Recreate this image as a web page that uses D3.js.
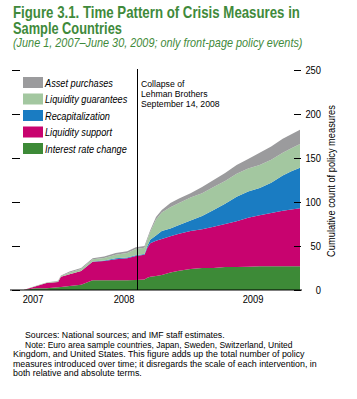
<!DOCTYPE html>
<html>
<head>
<meta charset="utf-8">
<script src="https://cdn.jsdelivr.net/npm/d3@7"></script>
<style>
  html, body { margin: 0; padding: 0; background: #fff; }
  svg { display: block; }
  .narrow { font-family: 'Liberation Sans Narrow', 'Arial Narrow', 'Liberation Sans', Arial, sans-serif; }
</style>
</head>
<body>
<svg id="chart" width="357" height="399"></svg>
<script>
// ---- Data ----
// period index along the horizontal axis (June 2007 -> June 2009, non-uniform time axis)
const period = [0,4,8,12,16,17,20,24,28,32,36,40,43,46,47,48,50,52,55,58,62,66,70,74,78,82,86,90,94,97,100];
const interestRateChange = [0,0,2,2,3,3.5,4.5,6,11,11,11,11,11.5,12,14,15,16,17,20,22,24,25,25,26,26,26.5,27,27,27,27,27];
const liquiditySupport   = [0,0,2,6,6,11.5,13.5,15.5,21,22,24,25,27,28,34,38,40,41,41,42,43,44,47,49,52,55.5,58,60.5,63,64.5,66];
const recapitalization   = [0,0,0,0,0,0,0,0,0.5,0.5,1,1,1,1,2,4,6,9,9,10,12,15,19,23,28,30,31,34.5,40,43.5,46];
const liquidityGuarantees= [0,0,0.5,0.5,1,1,2,2.5,2.5,3,4,5,7,7,7,9,18,21,24,25,26,26,26,26,26,26,26,26,26,26,27];
const assetPurchases     = [0,0,0,0,0.5,0.5,1,1,1,1.5,2,2,2,2,2,2,3,3,5,5,5,7,8,9,10,11,14,15,16,16,16];

const seriesNames = ["Interest rate change","Liquidity support","Recapitalization","Liquidity guarantees","Asset purchases"];
const seriesColors = ["#3d8a37","#c8036f","#1a7cc2","#a3c7a0","#9b9b9d"];
const yTicks = [0,50,100,150,200,250];
const yearLabels = ["2007","2008","2009"];
const yearLabelPos = [7.3,38.9,83.7];
const lehmanPos = 43.4;
const lehmanText = ["Collapse of","Lehman Brothers","September 14, 2008"];

// Condensed text: reference uses a condensed face; emulate by horizontal scaling
// place text at (tx,ty) and squeeze horizontally by factor f
function squeeze(sel, tx, ty, f) {
  sel.attr("x", 0).attr("y", 0)
     .attr("transform", (d,i) => {
       const X = typeof tx === "function" ? tx(d,i) : tx;
       const Y = typeof ty === "function" ? ty(d,i) : ty;
       const F = typeof f === "function" ? f(d,i) : f;
       return `translate(${X},${Y}) scale(${F},1)`;
     });
}
function naturalWidth(node) { return node.getComputedTextLength(); }

// ---- Layout ----
const svg = d3.select("#chart");
const plot = {left: 12, right: 300, top: 70, bottom: 290};

const x = d3.scaleLinear().domain([0,100]).range([plot.left, plot.right]);
const y = d3.scaleLinear().domain([0,250]).range([plot.bottom, plot.top]);

const rows = period.map((p,i) => ({
  p,
  "Interest rate change": interestRateChange[i],
  "Liquidity support": liquiditySupport[i],
  "Recapitalization": recapitalization[i],
  "Liquidity guarantees": liquidityGuarantees[i],
  "Asset purchases": assetPurchases[i]
}));
const stacked = d3.stack().keys(seriesNames)(rows);

const area = d3.area()
  .x(d => x(d.data.p))
  .y0(d => y(d[0]))
  .y1(d => y(d[1]))
  .curve(d3.curveLinear);

svg.append("g").selectAll("path").data(stacked).join("path")
  .attr("d", area)
  .attr("fill", (d,i) => seriesColors[i]);

// ---- Title ----
const green = "#3f8a3b";
function fitted(parent, text, tx, ty, width, attrs) {
  const t = parent.append("text").attr("class","narrow").text(text);
  Object.entries(attrs).forEach(([k,v]) => t.attr(k,v));
  const f = width / naturalWidth(t.node());
  squeeze(t, tx, ty, f);
  return t;
}
fitted(svg, "Figure 3.1. Time Pattern of Crisis Measures in", 13, 18, 287,
  {"font-size":16, "font-weight":"bold", "fill":green});
fitted(svg, "Sample Countries", 13, 34, 109,
  {"font-size":16, "font-weight":"bold", "fill":green});
fitted(svg, "(June 1, 2007\u2013June 30, 2009; only front-page policy events)", 13, 47, 290,
  {"font-size":12, "font-style":"italic", "fill":green});

// ---- Axes ----
const leftAxis = d3.axisLeft(y).tickValues(yTicks).tickSize(-8).tickFormat("");
const gL = svg.append("g").attr("transform",`translate(${plot.left},0)`).call(leftAxis);
gL.select(".domain").remove();
gL.selectAll("line").attr("stroke","#000");

const rightAxis = d3.axisRight(y).tickValues(yTicks).tickSize(-7).tickPadding(0).tickFormat(d3.format("d"));
const gR = svg.append("g").attr("transform",`translate(${plot.right+1},0)`).call(rightAxis);
gR.select(".domain").remove();
gR.selectAll("line").attr("stroke","#000");
gR.selectAll("text").attr("class","narrow").attr("font-size",11).attr("fill","#000")
  .attr("text-anchor","end").attr("dy","0.32em")
  .call(squeeze, 20, 0, 0.85);

fitted(svg, "Cumulative count of policy measures", 0, 0, 152,
  {"font-size":11, "fill":"#000", "text-anchor":"middle"})
  .attr("transform", function() {
    return `translate(335,181) rotate(-90) ` + d3.select(this).attr("transform");
  });

// x axis baseline
svg.append("line").attr("x1",10).attr("x2",302).attr("y1",y(0)).attr("y2",y(0))
  .attr("stroke","#000").attr("stroke-width",1);
svg.append("g").selectAll("text").data(yearLabels).join("text")
  .attr("class","narrow").attr("text-anchor","middle").attr("font-size",11).attr("fill","#000")
  .text(d=>d)
  .call(squeeze, (d,i)=>x(yearLabelPos[i]), 303, 0.85);

// ---- Lehman line ----
const lx = Math.round(x(lehmanPos))+0.5;
svg.append("line").attr("x1",lx).attr("x2",lx)
  .attr("y1",y(250)-1).attr("y2",y(0)).attr("stroke","#000").attr("stroke-width",1);
const lt = svg.append("g").selectAll("text").data(lehmanText).join("text")
  .attr("class","narrow").attr("font-size",9.5).attr("fill","#000").text(d=>d);
const lehFactor = 78.7 / naturalWidth(lt.nodes()[2]);
lt.call(squeeze, x(lehmanPos)+4, (d,i)=>87+i*10, lehFactor);

// ---- Legend ----
const legendOrder = seriesNames.slice().reverse();
const legendColors = seriesColors.slice().reverse();
const lg = svg.append("g");
lg.selectAll("rect").data(legendOrder).join("rect")
  .attr("x",23).attr("y",(d,i)=>77+i*16.5).attr("width",20).attr("height",11)
  .attr("fill",(d,i)=>legendColors[i]);
const legTexts = lg.selectAll("text").data(legendOrder).join("text")
  .attr("class","narrow").attr("font-size",11.5).attr("font-style","italic").attr("fill","#000").text(d=>d);
const legFactor = 68 / naturalWidth(legTexts.nodes()[0]);
legTexts.call(squeeze, 45, (d,i)=>86.5+i*16.5, legFactor);

// ---- Notes ----
const notes = [
  {x:25, w:200, t:"Sources: National sources; and IMF staff estimates."},
  {x:25, w:268, t:"Note: Euro area sample countries, Japan, Sweden, Switzerland, United"},
  {x:13, w:292, t:"Kingdom, and United States. This figure adds up the total number of policy"},
  {x:13, w:304, t:"measures introduced over time; it disregards the scale of each intervention, in"},
  {x:13, w:129, t:"both relative and absolute terms."}
];
const nt = svg.append("g").selectAll("text").data(notes).join("text")
  .attr("class","narrow").attr("font-size",9.5).attr("fill","#000").text(d=>d.t);
const noteF = nt.nodes().map((n,i) => notes[i].w / naturalWidth(n));
nt.call(squeeze, d=>d.x, (d,i)=>338+i*9.6, (d,i)=>noteF[i]);
</script>
</body>
</html>
